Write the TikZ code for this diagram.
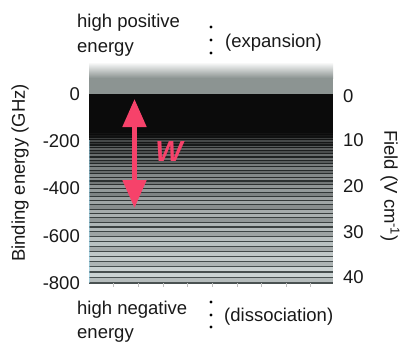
\documentclass[tikz,border=0pt]{standalone}
\usepackage{fontspec}
\setmainfont{Liberation Sans}
\usetikzlibrary{arrows.meta}
\definecolor{pinkw}{RGB}{246,66,106}
\definecolor{greyband}{RGB}{140,148,146}
\definecolor{lightc}{RGB}{206,214,214}
\definecolor{darkc}{RGB}{74,82,82}
\definecolor{nearblack}{RGB}{11,11,11}
\begin{document}
\begin{tikzpicture}[x=1pt,y=-1pt,
  lbl/.style={font=\fontsize{18.5}{22}\selectfont, inner sep=0pt, text=black!90},
  dotmark/.style={circle, fill=black, inner sep=0pt, minimum size=3.4pt},
  warrow/.style={pinkw, line width=5pt, {Triangle[width=23pt,length=28pt]}-{Triangle[width=23pt,length=28pt]}}]
\useasboundingbox (0,0) rectangle (415,351);
% top grey band
\shade[top color=white, bottom color=greyband] (89,62) rectangle (333,78);
\fill[greyband] (89,77.5) rectangle (333,94);
% dark region
\fill[nearblack] (89,94) rectangle (333,283);
\begin{scope}
\clip (89,94) rectangle (333,283);
\foreach \k in {0,...,37} {
  \pgfmathsetmacro\ya{132+2.4*\k+0.0414*\k*\k}
  \pgfmathsetmacro\yb{132+2.4*(\k+1)+0.0414*(\k+1)*(\k+1)}
  \pgfmathtruncatemacro\p{max(6,min(100, 8+92*((\k+0.01)/37)^0.5 - 12*(mod(\k,3)==1)))}
  \pgfmathtruncatemacro\q{min(100, 100*((\k+0.01)/37)^0.7)}
  \fill[lightc!\p!black] (89,\ya+0.6) rectangle (333,\yb-0.6);
  \draw[darkc!\q!nearblack, line width=1.2pt] (89,\yb) -- (333,\yb);
}
\end{scope}
\draw[cyan!40!white, opacity=0.5, line width=0.6pt] (89.3,140) -- (89.3,283);
% bottom ticks
\foreach \x in {113,138,163,187,212,237,261,286,310} {
  \draw[black!25, line width=0.5pt] (\x,283) -- (\x,287);
}
% left axis labels
\node[lbl, anchor=east] (l0) at (80,94) {0};
\node[lbl, anchor=east] (l1) at (80,141) {-200};
\node[lbl, anchor=east] (l2) at (80,188) {-400};
\node[lbl, anchor=east] (l3) at (80,236) {-600};
\node[lbl, anchor=east] (l4) at (80,283) {-800};
% right axis labels
\node[lbl, anchor=west] (r0) at (343,96) {0};
\node[lbl, anchor=west] (r1) at (343,140) {10};
\node[lbl, anchor=west] (r2) at (343,186) {20};
\node[lbl, anchor=west] (r3) at (343,232) {30};
\node[lbl, anchor=west] (r4) at (343,277) {40};
% axis titles
\node[lbl, rotate=90] (ylab) at (20,173) {Binding energy (GHz)};
\node[lbl, rotate=-90] (flab) at (390,186) {Field (V cm\textsuperscript{-1})};
% top text
\node[lbl, anchor=base west] (hp1) at (77,27) {high positive};
\node[lbl, anchor=base west] (hp2) at (77,52) {energy};
\node[dotmark] (td1) at (211,27) {};
\node[dotmark] (td2) at (211,40) {};
\node[dotmark] (td3) at (211,53) {};
\node[lbl, anchor=base west] (exp) at (225,47) {(expansion)};
% bottom text
\node[lbl, anchor=base west] (hn1) at (77,314) {high negative};
\node[lbl, anchor=base west] (hn2) at (77,338) {energy};
\node[dotmark] (bd1) at (211,302) {};
\node[dotmark] (bd2) at (211,315) {};
\node[dotmark] (bd3) at (211,327) {};
\node[lbl, anchor=base west] (dis) at (224,321) {(dissociation)};
% arrow and W
\coordinate (wtop) at (134.5,99);
\coordinate (wbot) at (134.5,208);
\draw[warrow] (wtop) -- (wbot);
\node[text=pinkw, font=\fontsize{29}{29}\selectfont\bfseries\itshape, inner sep=0pt] (w) at (169,152) {W};
\end{tikzpicture}
\end{document}
